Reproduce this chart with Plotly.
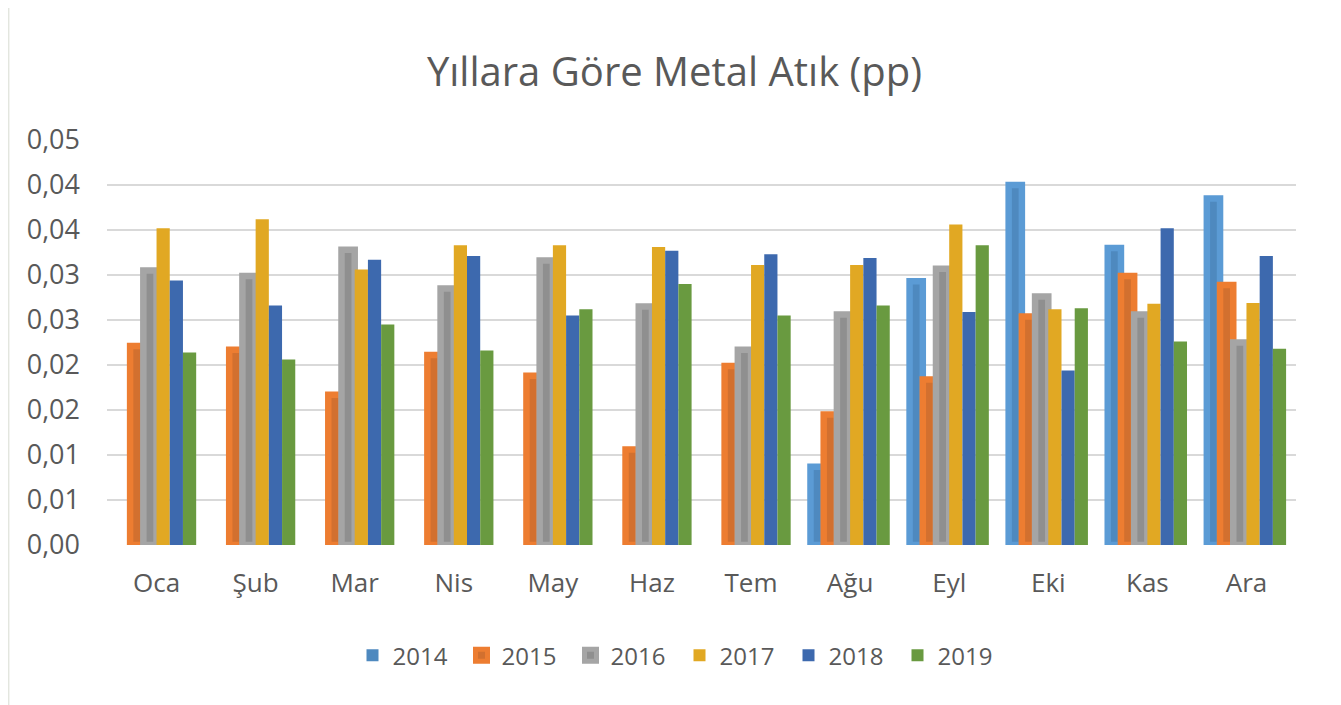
import plotly.graph_objects as go

months = ["Oca", "Şub", "Mar", "Nis", "May", "Haz", "Tem", "Ağu", "Eyl", "Eki", "Kas", "Ara"]
years = ["2014", "2015", "2016", "2017", "2018", "2019"]

v2014 = [0, 0, 0, 0, 0, 0, 0, 0.0087, 0.0293, 0.0400, 0.0330, 0.0385]
v2015 = [0.0221, 0.0217, 0.0167, 0.0211, 0.0188, 0.0106, 0.0199, 0.0145, 0.0184, 0.0254, 0.0299, 0.0289]
v2016 = [0.0305, 0.0299, 0.0328, 0.0285, 0.0316, 0.0265, 0.0217, 0.0256, 0.0307, 0.0276, 0.0256, 0.0225]
v2017 = [0.0352, 0.0362, 0.0306, 0.0333, 0.0333, 0.0331, 0.0311, 0.0311, 0.0356, 0.0262, 0.0268, 0.0269]
v2018 = [0.0294, 0.0266, 0.0317, 0.0321, 0.0255, 0.0327, 0.0323, 0.0319, 0.0259, 0.0194, 0.0352, 0.0321]
v2019 = [0.0214, 0.0206, 0.0245, 0.0216, 0.0262, 0.0290, 0.0255, 0.0266, 0.0333, 0.0263, 0.0226, 0.0218]

series = [v2014, v2015, v2016, v2017, v2018, v2019]
fill_colors = ["#4E89BF", "#D2702F", "#8F8F8F", "#E1A823", "#3D69AE", "#699A40"]
line_colors = ["#5B9BD5", "#ED7D31", "#A5A5A5", "#E1A823", "#3D69AE", "#699A40"]
outline = [6.5, 6.5, 6.5, 0, 0, 0]

yticks = [0, 0.005, 0.01, 0.015, 0.02, 0.025, 0.03, 0.035, 0.04, 0.045]
ytick_text = ["0,00", "0,01", "0,01", "0,02", "0,02", "0,03", "0,03", "0,04", "0,04", "0,05"]

FONT = "Open Sans"
GREY = "#595959"

fig = go.Figure()
for name, vals, fc, lc, lw in zip(years, series, fill_colors, line_colors, outline):
    widths = [lw if v > 0 else 0 for v in vals]
    fig.add_trace(go.Bar(
        name=name, x=months, y=vals,
        marker=dict(color=fc, line=dict(color=lc, width=widths)),
    ))

# page body has an 8px margin: figure placed at (8, 8)
fig.update_layout(
    width=1333, height=697,
    margin=dict(l=99, r=45, t=132, b=160),
    paper_bgcolor="white", plot_bgcolor="white",
    barmode="group", bargap=0.2, bargroupgap=0,
    title=dict(text="Yıllara Göre Metal Atık (pp)", x=0.5, xanchor="center",
               y=1 - 64 / 697, yref="container", yanchor="middle",
               font=dict(family=FONT, size=40, color=GREY)),
    font=dict(family=FONT, color=GREY),
    showlegend=True,
    legend=dict(orientation="h", x=0.4815, xanchor="center", y=-0.273, yanchor="middle",
                font=dict(family=FONT, size=24, color=GREY), entrywidth=64,
                traceorder="normal"),
    xaxis=dict(showgrid=False, showline=False, zeroline=False, ticks="",
               tickfont=dict(family=FONT, size=26, color=GREY), ticklabelstandoff=20),
    yaxis=dict(range=[0, 0.045], tickvals=yticks, ticktext=ytick_text,
               showgrid=True, gridcolor="#D9D9D9", gridwidth=1.6,
               zeroline=False, showline=False, ticks="",
               tickfont=dict(family=FONT, size=27, color=GREY), ticklabelstandoff=26),
    shapes=[
        dict(type="line", xref="paper", yref="paper", x0=-0.0829, x1=-0.0829, y0=-0.45, y1=1.4,
             line=dict(color="#E3E6DF", width=2)),
        dict(type="line", xref="paper", yref="paper", x0=1.0353, x1=1.0353, y0=-0.45, y1=1.4,
             line=dict(color="#D9D9D9", width=2)),
    ],
)

fig.write_html("out.html")
